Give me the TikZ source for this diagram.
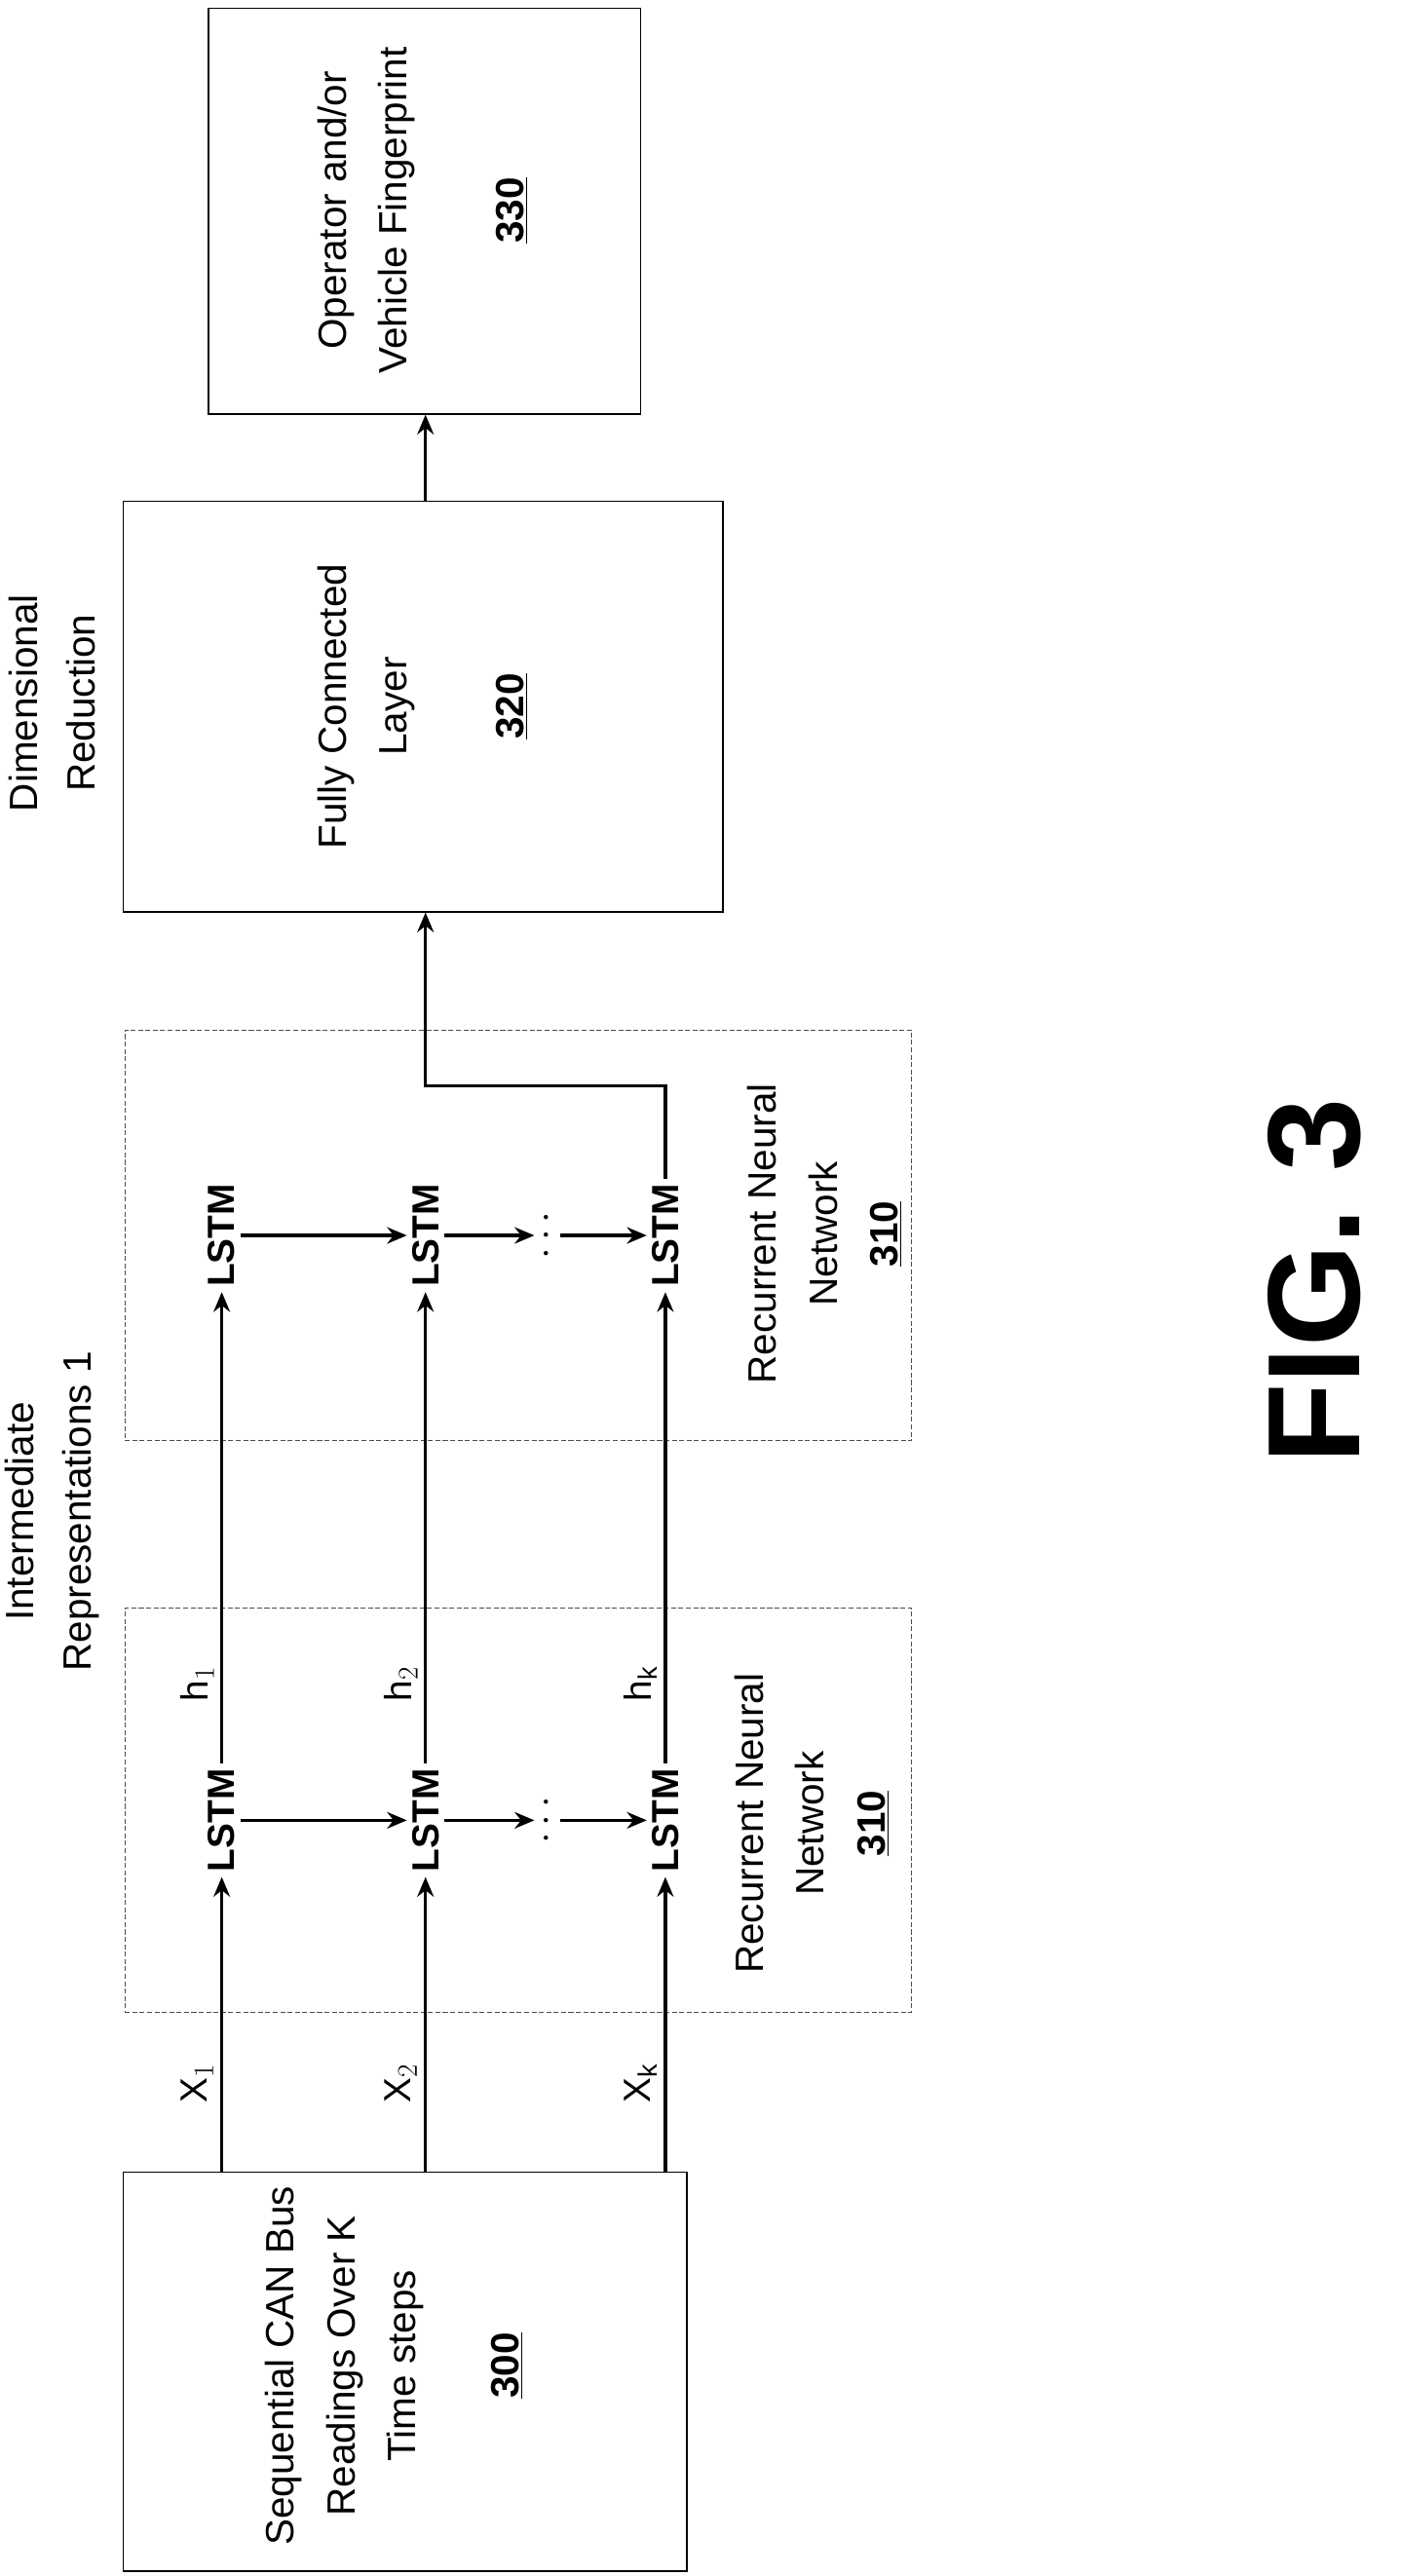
\documentclass[tikz,border=0pt]{standalone}
\usepackage{fontspec}
\setmainfont{Liberation Sans}
\usetikzlibrary{arrows.meta}
\begin{document}
\begin{tikzpicture}[x=1pt,y=-1pt,
  boxn/.style={draw,line width=0.8pt,inner sep=0pt},
  rnnbox/.style={draw=black!70,line width=0.6pt,dashed,dash pattern=on 3pt off 1.5pt,inner sep=0pt},
  txt/.style={rotate=90,align=center,font=\fontsize{24}{37}\selectfont},
  lstm/.style={rotate=90,font=\fontsize{23}{26}\selectfont\bfseries,inner sep=3pt},
  arr/.style={line width=2pt,-{Stealth[length=12pt,width=10pt]}},
  lab/.style={rotate=90,font=\fontsize{23}{26}\selectfont},
  dotn/.style={rotate=90,font=\fontsize{24}{24}\selectfont,inner sep=2pt}]
\useasboundingbox (0,0) rectangle (853,1568);
\node[boxn,minimum width=343pt,minimum height=243pt] (b300) at (246.5,1443.5) {};
\node[rnnbox,minimum width=479pt,minimum height=246pt] (b310a) at (315.5,1102) {};
\node[rnnbox,minimum width=479pt,minimum height=250pt] (b310b) at (315.5,752) {};
\node[boxn,minimum width=365pt,minimum height=250pt] (b320) at (257.5,430) {};
\node[boxn,minimum width=263pt,minimum height=247pt] (b330) at (258.5,128.5) {};
\node[txt] (t300) at (240,1440) {Sequential CAN Bus\\Readings Over K\\Time steps\\[26pt]\textbf{\underline{300}}};
\node[txt] (t310a) at (494,1110) {Recurrent Neural\\Network\\\textbf{\underline{310}}};
\node[txt] (t310b) at (502,751) {Recurrent Neural\\Network\\\textbf{\underline{310}}};
\node[txt] (t320) at (257,430) {Fully Connected\\Layer\\[34pt]\textbf{\underline{320}}};
\node[txt] (t330) at (257,128) {Operator and/or\\Vehicle Fingerprint\\[34pt]\textbf{\underline{330}}};
\node[txt,font=\fontsize{24}{35}\selectfont] (dr) at (32,428) {Dimensional\\Reduction};
\node[txt,font=\fontsize{24}{35}\selectfont] (ir) at (32,920) {Intermediate\\Representations 1};
\node[rotate=90,font=\fontsize{80}{90}\selectfont\bfseries] (fig) at (800,780) {FIG. 3};
\node[lstm] (L1) at (135,1108) {LSTM};
\node[lstm] (L2) at (259,1108) {LSTM};
\node[lstm] (Lk) at (405,1108) {LSTM};
\node[lstm] (U1) at (135,752) {LSTM};
\node[lstm] (U2) at (259,752) {LSTM};
\node[lstm] (Uk) at (405,752) {LSTM};
\draw[arr] (b300.north -| L1) -- (L1);
\draw[arr] (b300.north -| L2) -- (L2);
\draw[arr] (b300.north -| Lk) -- (Lk);
\node[lab] (x1) at (120,1268) {X$_1$};
\node[lab] (x2) at (244,1268) {X$_2$};
\node[lab] (xk) at (390,1268) {X$_\mathrm{k}$};
\node[dotn] (d1) at (333,1108) {$\cdots$};
\draw[arr] (L1) -- (L2);
\draw[arr] (L2) -- (d1);
\draw[arr] (d1) -- (Lk);
\draw[arr] (L1) -- (U1);
\draw[arr] (L2) -- (U2);
\draw[arr] (Lk) -- (Uk);
\node[lab] (h1) at (120,1025) {h$_1$};
\node[lab] (h2) at (244,1025) {h$_2$};
\node[lab] (hk) at (390,1025) {h$_\mathrm{k}$};
\node[dotn] (d2) at (333,752) {$\cdots$};
\draw[arr] (U1) -- (U2);
\draw[arr] (U2) -- (d2);
\draw[arr] (d2) -- (Uk);
\coordinate (c1) at (405,661);
\coordinate (c2) at (259,661);
\draw[arr] (Uk) -- (c1) -- (c2) -- (b320.south -| c2);
\draw[arr] (b320.north -| c2) -- (b330.south -| c2);
\end{tikzpicture}
\end{document}
